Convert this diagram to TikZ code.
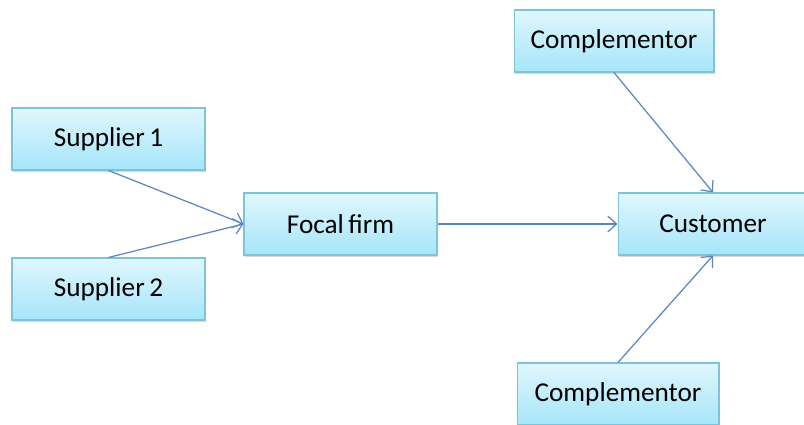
\documentclass[tikz,border=0pt]{standalone}
\usepackage{fontspec}
\setmainfont{Carlito}
\usetikzlibrary{shadows,arrows.meta}
\definecolor{boxtop}{HTML}{E0F7FD}
\definecolor{boxbot}{HTML}{A6E5F9}
\definecolor{boxline}{HTML}{7EC3D8}
\definecolor{wire}{HTML}{5B86C0}
\tikzset{
	party/.style={shape=rectangle, draw=boxline, line width=0.6pt, top color=boxtop, bottom color=boxbot, minimum height=1.24cm, inner sep=0pt, font=\fontsize{15.5}{18}\selectfont, drop shadow={opacity=0.3, shadow xshift=0.6pt, shadow yshift=-1.2pt}},
	link/.style={draw=wire, line width=0.7pt, -{Straight Barb[length=5pt, width=9pt]}}
}
\begin{document}
\begin{tikzpicture}[x=0.02cm, y=-0.02cm]
	\useasboundingbox (0,0) rectangle (804,425);
	\clip (0,0) rectangle (804,425);
	% Paths, nodes and wires:
	\node[party, minimum width=3.86cm] (sup1) at (108.5, 139){Supplier\,1};
	\node[party, minimum width=3.86cm] (sup2) at (108.5, 289){Supplier\,2};
	\node[party, minimum width=3.86cm] (focal) at (340.5, 224){Focal\,firm};
	\node[party, minimum width=3.8cm] (cust) at (713, 224){Customer};
	\node[party, minimum width=4cm] (comptop) at (614, 41){Complementor};
	\node[party, minimum width=4.04cm] (compbot) at (618, 394){Complementor};
	\draw[link] (sup1.south) -- (focal.west);
	\draw[link] (sup2.north) -- (focal.west);
	\draw[link] (focal.east) -- (cust.west);
	\draw[link] (comptop.south) -- (cust.north);
	\draw[link] (compbot.north) -- (cust.south);
\end{tikzpicture}
\end{document}
